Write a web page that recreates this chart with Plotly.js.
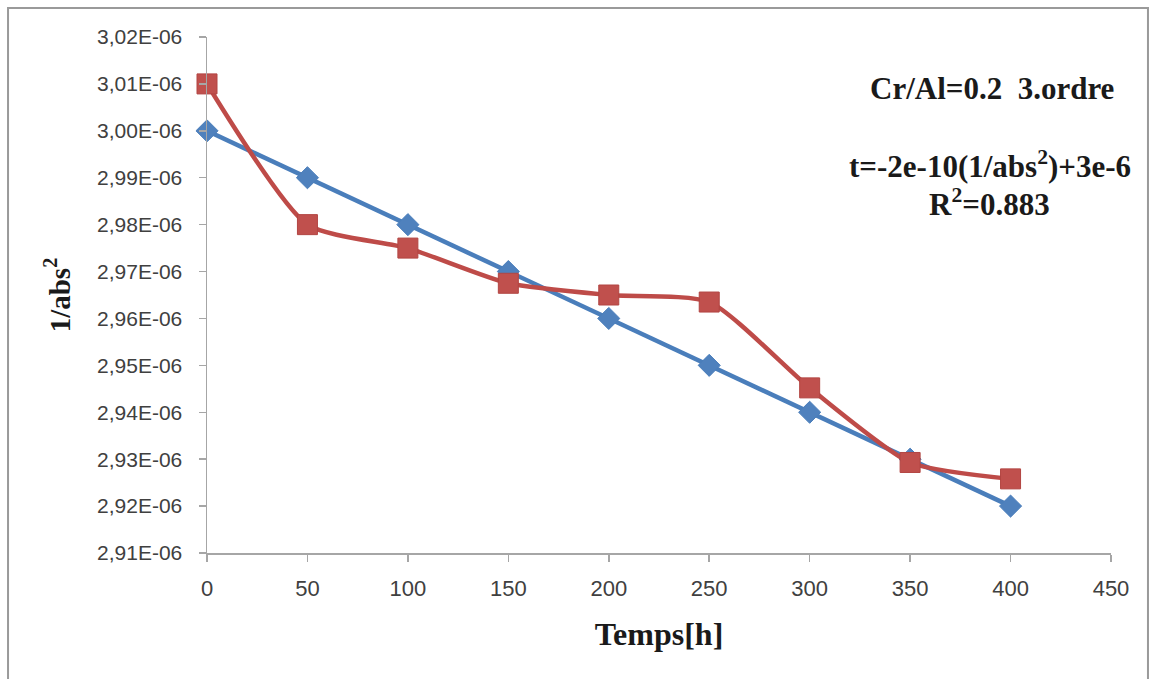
<!DOCTYPE html>
<html>
<head>
<meta charset="utf-8">
<script src="https://cdn.plot.ly/plotly-3.0.1.min.js"></script>
<style>
html,body{margin:0;padding:0;background:#fff;}
#chart{width:1155px;height:679px;}
</style>
</head>
<body>
<div id="chart"></div>
<script>
// Data
const timeHours = [0, 50, 100, 150, 200, 250, 300, 350, 400];
const fitSeries = [3.00e-6, 2.99e-6, 2.98e-6, 2.97e-6, 2.96e-6, 2.95e-6, 2.94e-6, 2.93e-6, 2.92e-6];
const measuredSeries = [3.010e-6, 2.980e-6, 2.975e-6, 2.9675e-6, 2.965e-6, 2.9635e-6, 2.9452e-6, 2.9293e-6, 2.9258e-6];
const yTickValues = [2.91e-6, 2.92e-6, 2.93e-6, 2.94e-6, 2.95e-6, 2.96e-6, 2.97e-6, 2.98e-6, 2.99e-6, 3.00e-6, 3.01e-6, 3.02e-6];
const yTickLabels = ["2,91E-06", "2,92E-06", "2,93E-06", "2,94E-06", "2,95E-06", "2,96E-06", "2,97E-06", "2,98E-06", "2,99E-06", "3,00E-06", "3,01E-06", "3,02E-06"];
const xTickValues = [0, 50, 100, 150, 200, 250, 300, 350, 400, 450];
const xTickLabels = ["0", "50", "100", "150", "200", "250", "300", "350", "400", "450"];

const traces = [
  {
    x: timeHours, y: fitSeries, type: 'scatter', mode: 'lines+markers', cliponaxis: false,
    line: {color: '#4A7EBB', width: 4.5},
    marker: {symbol: 'diamond', size: 17, color: '#4F81BD', line: {color: '#4A7EBB', width: 1}},
    showlegend: false, hoverinfo: 'x+y'
  },
  {
    x: timeHours, y: measuredSeries, type: 'scatter', mode: 'lines+markers', cliponaxis: false,
    line: {color: '#BE4B48', width: 4.5, shape: 'spline', smoothing: 0.6},
    marker: {symbol: 'square', size: 20, color: '#C0504D', line: {color: '#B24542', width: 1}},
    showlegend: false, hoverinfo: 'x+y'
  }
];

const tickFont = {family: '"Liberation Sans", Arial, sans-serif', size: 21, color: '#404040'};
const serifBold = '"Liberation Serif", "Times New Roman", serif';

const layout = {
  width: 1155, height: 679,
  margin: {l: 207, r: 44, t: 37, b: 126, pad: 0},
  paper_bgcolor: '#ffffff', plot_bgcolor: '#ffffff',
  showlegend: false,
  xaxis: {
    range: [0, 450], tickvals: xTickValues, ticktext: xTickLabels,
    showgrid: false, zeroline: false, showline: true, linecolor: '#a6a6a6', linewidth: 1.5,
    ticks: 'outside', ticklen: 7, tickcolor: '#a6a6a6', tickwidth: 1.5,
    ticklabelstandoff: 8,
    tickfont: Object.assign({}, tickFont, {size: 22}),
    title: {text: '<b>Temps[h]</b>', font: {family: serifBold, size: 32, color: '#1a1a1a'}, standoff: 22}
  },
  yaxis: {
    range: [2.91e-6, 3.02e-6], tickvals: yTickValues, ticktext: yTickLabels,
    showgrid: false, zeroline: false, showline: true, linecolor: '#a6a6a6', linewidth: 1.5,
    ticks: 'outside', ticklen: 7, tickcolor: '#a6a6a6', tickwidth: 1.5,
    ticklabelstandoff: 12,
    tickfont: tickFont,
    title: {text: '<b>1/abs<sup>2</sup></b>', font: {family: serifBold, size: 29, color: '#1a1a1a'}, standoff: 18}
  },
  annotations: [
    {xref: 'paper', yref: 'paper', x: 0.868, y: 0.9, xanchor: 'center', yanchor: 'middle', showarrow: false,
     text: '<b>Cr/Al=0.2\u00a0\u00a03.ordre</b>', font: {family: serifBold, size: 31, color: '#1a1a1a'}},
    {xref: 'paper', yref: 'paper', x: 0.866, y: 0.753, xanchor: 'center', yanchor: 'middle', showarrow: false,
     text: '<b>t=-2e-10(1/abs<sup>2</sup>)+3e-6</b>', font: {family: serifBold, size: 31, color: '#1a1a1a'}},
    {xref: 'paper', yref: 'paper', x: 0.866, y: 0.68, xanchor: 'center', yanchor: 'middle', showarrow: false,
     text: '<b>R<sup>2</sup>=0.883</b>', font: {family: serifBold, size: 31, color: '#1a1a1a'}}
  ],
  shapes: [
    {type: 'rect', xref: 'paper', yref: 'paper', x0: -0.2201, x1: 1.0409, y0: -0.3, y1: 1.0562,
     line: {color: '#9a9a9a', width: 2}, fillcolor: 'rgba(0,0,0,0)', layer: 'below'}
  ]
};

Plotly.newPlot('chart', traces, layout, {displayModeBar: false, staticPlot: true});
</script>
</body>
</html>
